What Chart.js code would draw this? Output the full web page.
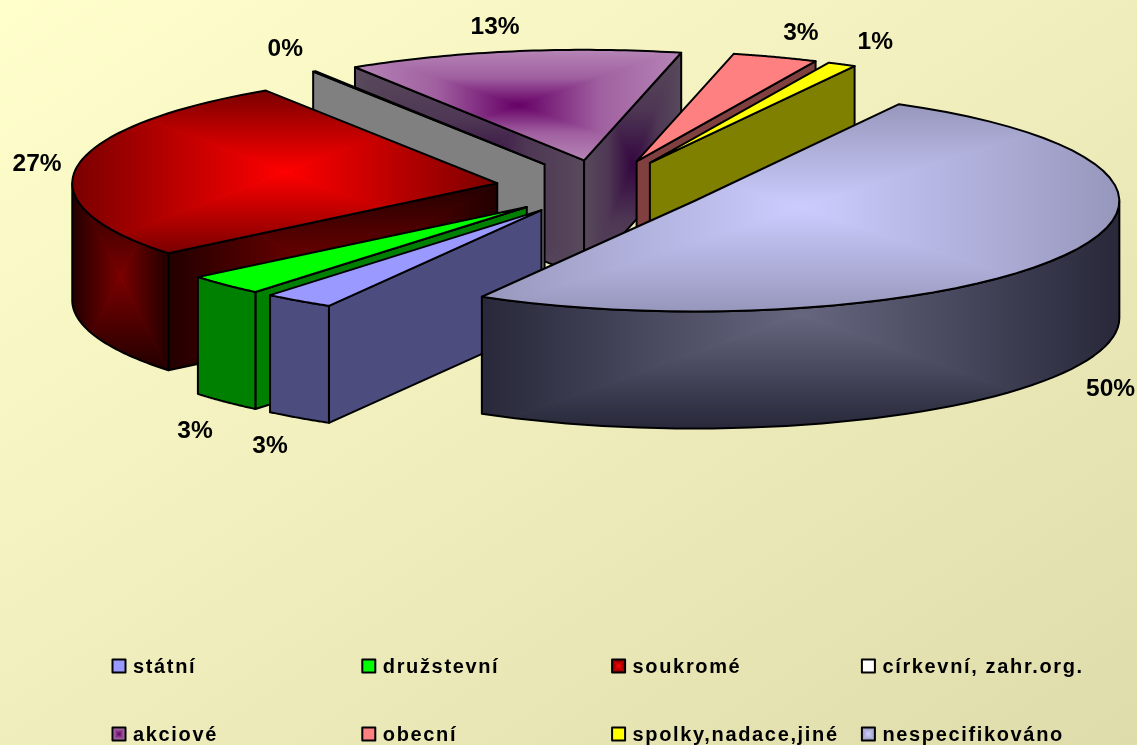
<!DOCTYPE html>
<html><head><meta charset="utf-8">
<style>
html,body{margin:0;padding:0;width:1137px;height:745px;overflow:hidden;background:linear-gradient(to bottom right,#FFFFCC,#DFDCAC);}
canvas{display:block}
</style>
<script src="https://cdn.jsdelivr.net/npm/chart.js@4"></script>
</head><body><canvas id="c" width="1137" height="745"></canvas>
<script>
const categories=['státní','družstevní','soukromé','církevní, zahr.org.','akciové','obecní','spolky,nadace,jiné','nespecifikováno'];
const shares=[2.69,3.06,26.75,0.1,12.73,3.25,1.08,50.33];
const percentLabels=['3%','3%','27%','0%','13%','3%','1%','50%'];
const topInner=['#9999FF','#00FF00','#FF0000','#FFFFFF','#660066','#FF8080','#FFFF00','#CCCCFF'];
const topOuter=['#9999FF','#00FF00','#7A0000','#FFFFFF','#B685B6','#FF8080','#FFFF00','#9797BC'];
const wallInner=['#4C4C7F','#008000','#7A0000','#808080','#33063F','#804040','#808000','#66667F'];
const wallOuter=['#4C4C7F','#008000','#220000','#808080','#584A5C','#804040','#808000','#28283A'];
const midBias=[.5,.5,.5,.5,.72,.5,.5,.5];
const drawOrder=[4,5,6,3,2,1,0,7];
const labelNudges=[[-28.6,145],[-30.3,146.5],[-40.3,-2],[-29,-22.3],[-17.3,-23.7],[25.5,-24],[33.5,-22.4],[45.9,133.5]];
const TILT=0.26, DEPTH=117, RADIUS=425, EXPLODE=106;

function mix(a,b,t){
  const p=h=>[1,3,5].map(i=>parseInt(h.substr(i,2),16));
  const A=p(a),B=p(b);
  return 'rgb('+A.map((v,i)=>Math.round(v+(B[i]-v)*t)).join(',')+')';
}
function pathGrad(ctx,b,inner,outer,bias){
  const cx=(b.x0+b.x1)/2, cy=(b.y0+b.y1)/2;
  const tris=[[b.x0,b.y0,b.x1,b.y0,cx,b.y0],[b.x1,b.y0,b.x1,b.y1,b.x1,cy],[b.x1,b.y1,b.x0,b.y1,cx,b.y1],[b.x0,b.y1,b.x0,b.y0,b.x0,cy]];
  tris.forEach(t=>{
    const g=ctx.createLinearGradient(cx,cy,t[4],t[5]);
    g.addColorStop(0,inner);g.addColorStop(.5,mix(inner,outer,bias));g.addColorStop(1,outer);
    ctx.fillStyle=g;
    ctx.beginPath();ctx.moveTo(cx,cy);ctx.lineTo(t[0],t[1]);ctx.lineTo(t[2],t[3]);ctx.closePath();ctx.fill();
    ctx.strokeStyle=g;ctx.lineWidth=1;ctx.stroke();
  });
}
function boxOf(pts){
  const xs=pts.map(p=>p[0]),ys=pts.map(p=>p[1]);
  return {x0:Math.min(...xs),x1:Math.max(...xs),y0:Math.min(...ys),y1:Math.max(...ys)};
}
function shaded(ctx,tracePath,box,inner,outer,bias){
  ctx.save();tracePath();ctx.clip();
  if(inner===outer){ctx.fillStyle=inner;ctx.fillRect(box.x0-2,box.y0-2,box.x1-box.x0+4,box.y1-box.y0+4);}
  else pathGrad(ctx,box,inner,outer,bias);
  ctx.restore();
  tracePath();ctx.strokeStyle='#000';ctx.lineWidth=2;ctx.lineJoin='round';ctx.stroke();
}
const pie3d={
  id:'pie3d',
  beforeDatasetsDraw(chart){
    const ctx=chart.ctx, meta=chart.getDatasetMeta(0);
    drawOrder.forEach(i=>{
      const arc=meta.data[i];
      const {x,y,startAngle:s,endAngle:e,outerRadius:r}=arc.getProps(['x','y','startAngle','endAngle','outerRadius'],true);
      const m=(s+e)/2, off=arc.options.offset;
      const ox=x+off*Math.cos(m), oy=y+off*Math.sin(m)*TILT;
      const P=(a,h=0)=>[ox+r*Math.cos(a),oy+r*Math.sin(a)*TILT+h];
      const arcPts=(a,b,h=0)=>{const o=[];for(let k=0;k<=48;k++)o.push(P(a+(b-a)*k/48,h));return o;};
      const cutWall=a=>{
        const p=P(a),q=P(a,DEPTH),ap=[ox,oy],ad=[ox,oy+DEPTH];
        const trace=()=>{ctx.beginPath();ctx.moveTo(...ap);ctx.lineTo(...p);ctx.lineTo(...q);ctx.lineTo(...ad);ctx.closePath();};
        shaded(ctx,trace,boxOf([ap,p,q,ad]),wallInner[i],wallOuter[i],midBias[i]);
      };
      if(Math.cos(s)<0) cutWall(s);
      if(Math.cos(e)>0) cutWall(e);
      for(let k=0;k<3;k++){
        const lo=Math.max(s,2*Math.PI*k), hi=Math.min(e,2*Math.PI*k+Math.PI);
        if(hi>lo){
          const up=arcPts(lo,hi), dn=arcPts(lo,hi,DEPTH).reverse();
          const trace=()=>{ctx.beginPath();ctx.moveTo(...up[0]);up.forEach(p=>ctx.lineTo(...p));dn.forEach(p=>ctx.lineTo(...p));ctx.closePath();};
          shaded(ctx,trace,boxOf(up.concat(dn)),wallInner[i],wallOuter[i],midBias[i]);
        }
      }
      const rim=arcPts(s,e);
      const trace=()=>{ctx.beginPath();ctx.moveTo(ox,oy);rim.forEach(p=>ctx.lineTo(...p));ctx.closePath();};
      shaded(ctx,trace,boxOf(rim.concat([[ox,oy]])),topInner[i],topOuter[i],midBias[i]);
    });
    ctx.fillStyle='#000';ctx.font='bold 24.5px "Liberation Sans",Arial,sans-serif';ctx.textAlign='center';ctx.textBaseline='middle';
    meta.data.forEach((arc,i)=>{
      const {x,y,startAngle:s,endAngle:e,outerRadius:r}=arc.getProps(['x','y','startAngle','endAngle','outerRadius'],true);
      const m=(s+e)/2,off=arc.options.offset;
      const lx=x+(off+r)*Math.cos(m)+labelNudges[i][0], ly=y+(off+r)*Math.sin(m)*TILT+labelNudges[i][1];
      ctx.fillText(percentLabels[i],lx,ly);
    });
    ctx.textAlign='left';ctx.textBaseline='alphabetic';ctx.font='bold 20px "Liberation Sans",Arial,sans-serif';ctx.letterSpacing='1.65px';
    categories.forEach((name,i)=>{
      const bx=112.5+249.8*(i%4), by=659.5+68*Math.floor(i/4);
      const b={x0:bx,y0:by,x1:bx+13,y1:by+13};
      const t=()=>{ctx.beginPath();ctx.rect(bx,by,13,13);};
      ctx.save();t();ctx.clip();
      if(topInner[i]===topOuter[i]){ctx.fillStyle=topInner[i];ctx.fill();}else pathGrad(ctx,b,topInner[i],topOuter[i],.5);
      ctx.restore();
      t();ctx.strokeStyle='#000';ctx.lineWidth=2;ctx.stroke();
      ctx.fillStyle='#000';ctx.fillText(name,bx+20.5,by+13.5);
    });
    ctx.letterSpacing='0px';
    return false;
  }
};
new Chart(document.getElementById('c'),{
  type:'pie',
  data:{labels:categories,datasets:[{data:shares,backgroundColor:topInner,borderColor:'#000',borderWidth:1,offset:EXPLODE}]},
  options:{responsive:false,animation:false,rotation:210,radius:RADIUS,
    layout:{padding:{left:67,bottom:370}},
    plugins:{legend:{display:false},tooltip:{enabled:false}}},
  plugins:[pie3d]
});
</script></body></html>
